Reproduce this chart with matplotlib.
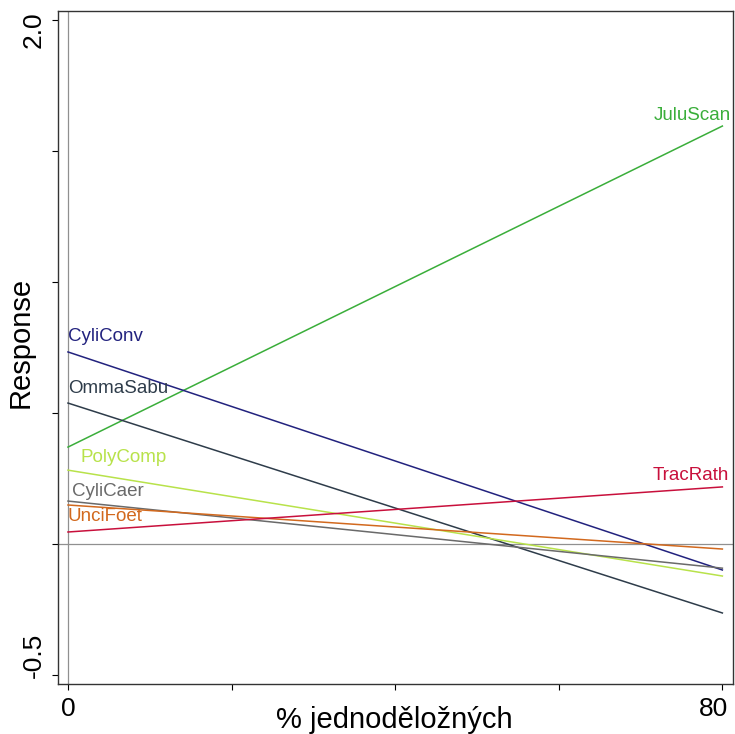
import matplotlib
matplotlib.use("Agg")
import matplotlib.pyplot as plt
import matplotlib.transforms as mtransforms

plt.rcParams['font.family'] = ['Liberation Sans', 'DejaVu Sans']

species = ["JuluScan", "CyliConv", "OmmaSabu", "PolyComp", "CyliCaer", "UnciFoet", "TracRath"]
x_vals = [0, 80]
y_start = [0.370, 0.733, 0.538, 0.282, 0.164, 0.149, 0.046]
y_end = [1.595, -0.099, -0.263, -0.122, -0.092, -0.019, 0.218]
colors = ["#3aae3a", "#22227e", "#2e3c4a", "#b8e24a", "#6a6a6a", "#d2691e", "#c8103c"]

fig = plt.figure(figsize=(7.35, 7.34), dpi=100)
ax = fig.add_axes([58/735, 1 - 684/734, (733-58)/735, (684-11)/734])

ax.axhline(0, color="#909090", lw=0.9, zorder=1)
ax.axvline(0, color="#909090", lw=0.9, zorder=1)

for name, a, b, c in zip(species, y_start, y_end, colors):
    ax.plot(x_vals, [a, b], color=c, lw=1.1, zorder=2)

left_labels = {"CyliConv": (0.0, 0.792), "OmmaSabu": (0.0, 0.594),
               "PolyComp": (1.5, 0.330), "CyliCaer": (0.5, 0.200),
               "UnciFoet": (0.0, 0.105)}
right_labels = {"JuluScan": (81.0, 1.635), "TracRath": (80.8, 0.260)}
for name, c in zip(species, colors):
    if name in left_labels:
        x, y = left_labels[name]
        ax.text(x, y, name, color=c, fontsize=13.5, ha="left", va="center")
    else:
        x, y = right_labels[name]
        ax.text(x, y, name, color=c, fontsize=13.5, ha="right", va="center")

ax.set_xlim(-1.22, 81.3)
ax.set_ylim(-0.534, 2.034)

ax.set_xticks([0, 20, 40, 60, 80])
ax.set_xticklabels(["0", "", "", "", "80"])
ax.set_yticks([-0.5, 0.0, 0.5, 1.0, 1.5, 2.0])
ax.set_yticklabels(["-0.5", "", "", "", "", "2.0"], rotation=90, va="center")
ax.tick_params(axis="both", direction="out", length=4, width=0.8, labelsize=19, pad=5)

# shift end labels inward like the reference
def shift(lbl, dx_px, dy_px):
    off = mtransforms.ScaledTranslation(dx_px / 100, dy_px / 100, fig.dpi_scale_trans)
    lbl.set_transform(lbl.get_transform() + off)

ylbls = ax.get_yticklabels()
shift(ylbls[0], 0, 20)
shift(ylbls[-1], 0, -10)
xlbls = ax.get_xticklabels()
shift(xlbls[-1], -9, 0)

for s in ax.spines.values():
    s.set_linewidth(1.0)
    s.set_color("#333333")

ax.set_xlabel("% jednoděložných", fontsize=21)
ax.xaxis.set_label_coords(0.498, -0.033)
ax.set_ylabel("Response", fontsize=21)
ax.yaxis.set_label_coords(-0.034, 0.507)

fig.savefig("out.png", dpi=100)
